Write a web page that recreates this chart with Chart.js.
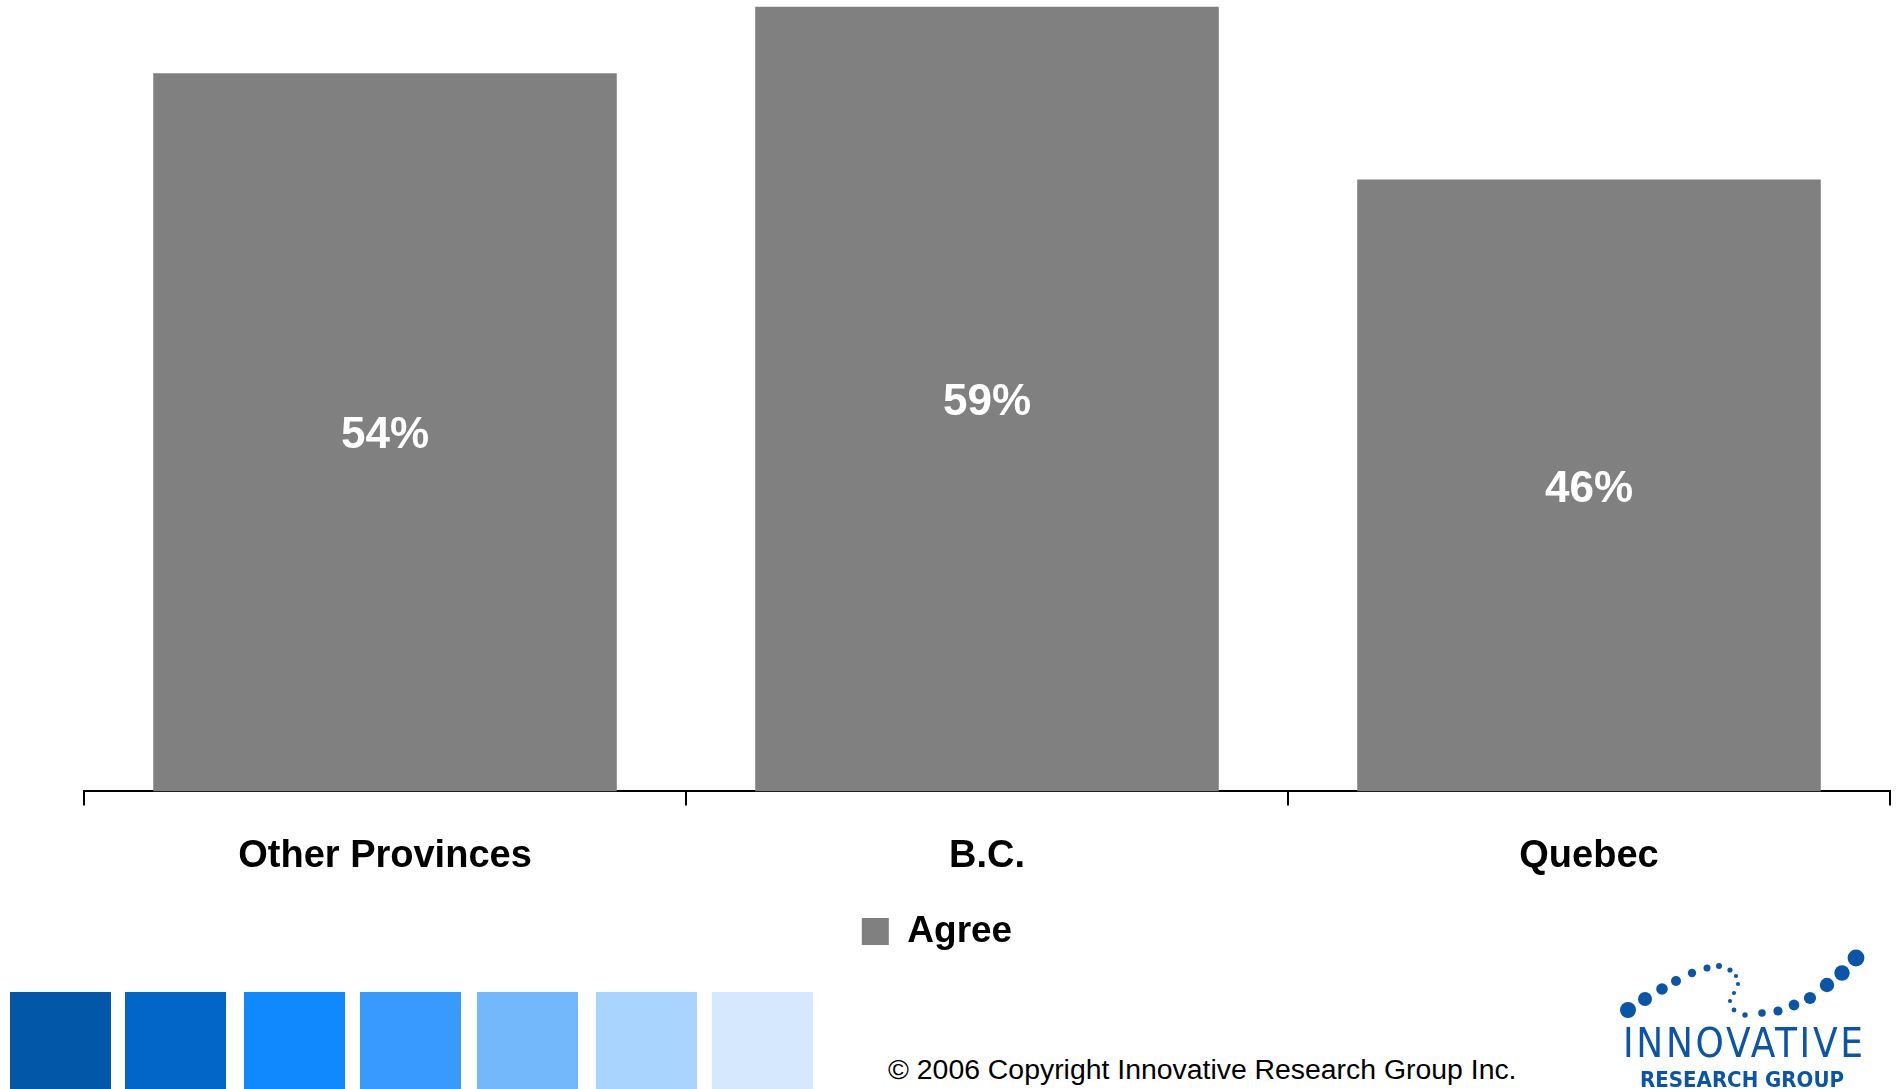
<!DOCTYPE html>
<html>
<head>
<meta charset="utf-8">
<script src="https://cdn.jsdelivr.net/npm/chart.js@4"></script>
<style>
  html, body { margin: 0; padding: 0; background: #fff; overflow: hidden; }
  body { width: 1900px; height: 1089px; position: relative; font-family: "Liberation Sans", Arial, sans-serif; }
  #wrap { position: absolute; left: -16px; top: 0; width: 1916px; height: 960px; }
  .swatch { position: absolute; top: 992px; height: 97px; }
  #copy { position: absolute; left: 888px; top: 1053px; font-size: 28.4px; color: #000; white-space: nowrap; }
  #logo { position: absolute; left: 1610px; top: 940px; }
</style>
</head>
<body>
<div id="wrap"><canvas id="myChart"></canvas></div>
<div id="swatches"></div>
<div id="copy">© 2006 Copyright Innovative Research Group Inc.</div>
<svg id="logo" width="270" height="149" viewBox="0 0 270 149">
  <g fill="#0b55a8">
    <circle cx="18" cy="70" r="8"/>
    <circle cx="35" cy="59" r="7"/>
    <circle cx="52" cy="49" r="5.8"/>
    <circle cx="66" cy="41" r="5"/>
    <circle cx="82" cy="33" r="4.2"/>
    <circle cx="97" cy="28" r="3.5"/>
    <circle cx="109" cy="26" r="3"/>
    <circle cx="120" cy="30" r="2.6"/>
    <circle cx="126" cy="36" r="2.1"/>
    <circle cx="128" cy="44" r="2.1"/>
    <circle cx="124" cy="53" r="2.1"/>
    <circle cx="120" cy="61" r="2.1"/>
    <circle cx="124" cy="70" r="2.4"/>
    <circle cx="135" cy="75" r="2.7"/>
    <circle cx="152" cy="73" r="3.8"/>
    <circle cx="168" cy="71" r="4.6"/>
    <circle cx="184" cy="65" r="5.4"/>
    <circle cx="200" cy="58" r="6.1"/>
    <circle cx="217" cy="45" r="7.2"/>
    <circle cx="232" cy="33" r="7.7"/>
    <circle cx="246" cy="18" r="8.4"/>
    <text x="13" y="117" font-family="Liberation Sans Narrow, DejaVu Sans Condensed, sans-serif" font-size="40" textLength="240" lengthAdjust="spacing">INNOVATIVE</text>
    <text x="30" y="147" font-family="Liberation Sans Narrow, DejaVu Sans Condensed, sans-serif" font-size="22" font-weight="bold" textLength="204" lengthAdjust="spacing">RESEARCH GROUP</text>
  </g>
</svg>
<script>
// chart data
const categories = ['Other Provinces', 'B.C.', 'Quebec'];
const agreeValues = [54, 59, 46];
const seriesName = 'Agree';

// decorative palette strip along the bottom
const swatchColors = ['#0257a8', '#0265c8', '#1088fe', '#389aff', '#74b8fc', '#a8d4fd', '#d6e8fd'];
const swatchLefts = [10, 125, 244, 360, 477, 596, 712];

const strip = document.getElementById('swatches');
swatchColors.forEach((c, i) => {
  const d = document.createElement('div');
  d.className = 'swatch';
  d.style.left = swatchLefts[i] + 'px';
  d.style.width = '101px';
  d.style.background = c;
  strip.appendChild(d);
});

// writes the % value in the middle of each bar
const barValues = {
  id: 'barValues',
  afterDatasetsDraw(chart) {
    const ctx = chart.ctx;
    ctx.save();
    ctx.fillStyle = '#fff';
    ctx.font = 'bold 44px "Liberation Sans", Arial, sans-serif';
    ctx.textAlign = 'center';
    ctx.textBaseline = 'middle';
    chart.getDatasetMeta(0).data.forEach((bar, i) => {
      const v = chart.data.datasets[0].data[i];
      ctx.fillText(v + '%', bar.x, (bar.y + bar.base) / 2 + 4);
    });
    ctx.restore();
  }
};

new Chart(document.getElementById('myChart'), {
  type: 'bar',
  data: {
    labels: categories,
    datasets: [{
      label: seriesName,
      data: agreeValues,
      backgroundColor: '#808080',
      borderWidth: 0,
      categoryPercentage: 1,
      barPercentage: 0.77
    }]
  },
  options: {
    responsive: true,
    maintainAspectRatio: false,
    animation: false,
    layout: { padding: { top: 0, right: 10, left: 0, bottom: 0 } },
    scales: {
      x: {
        grid: { display: true, drawOnChartArea: false, drawTicks: true, tickLength: 14, color: '#000', lineWidth: 2, offset: true },
        border: { display: true, color: '#000', width: 2 },
        ticks: { color: '#000', padding: 28, font: { family: '"Liberation Sans", Arial, sans-serif', size: 38, weight: 'bold' } }
      },
      y: {
        min: 0,
        max: 59.5,
        grid: { display: false },
        border: { display: false },
        ticks: { display: false },
        afterFit: (axis) => { axis.width = 100; }
      }
    },
    plugins: {
      legend: {
        position: 'bottom',
        labels: {
          color: '#000',
          boxWidth: 27,
          boxHeight: 27,
          padding: 6,
          font: { family: '"Liberation Sans", Arial, sans-serif', size: 37, weight: 'bold' }
        }
      },
      tooltip: { enabled: false }
    }
  },
  plugins: [barValues]
});
</script>
</body>
</html>
